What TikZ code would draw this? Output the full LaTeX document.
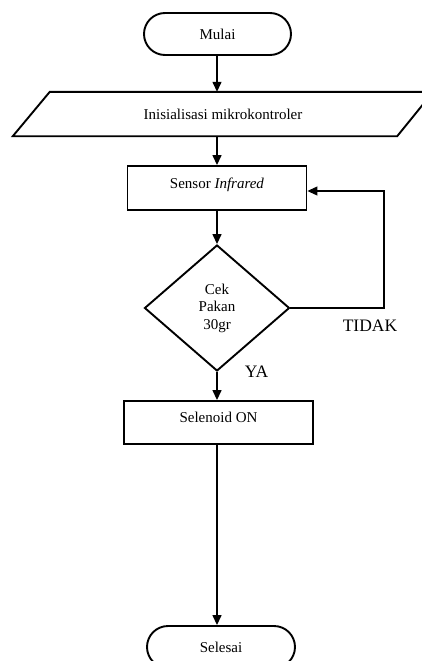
\documentclass[tikz,border=0pt]{standalone}
\usepackage{fontspec}
\setmainfont{Liberation Serif}
\usetikzlibrary{shapes.geometric,arrows.meta,calc}
\begin{document}
\begin{tikzpicture}[x=1pt,y=-1pt,
  shp/.style={draw, line width=1.9pt, inner sep=0pt, font=\fontsize{15}{17.5}\selectfont},
  term/.style={shp, rectangle, rounded corners=21pt, minimum width=147pt, minimum height=42pt},
  procbox/.style={shp, rectangle, minimum height=44pt},
  dec/.style={shp, diamond, minimum width=145pt, minimum height=126pt, align=center},
  conn/.style={line width=1.4pt, -{Triangle[length=10pt,width=9pt]}},
  lbl/.style={font=\fontsize{17.5}{20}\selectfont, inner sep=0pt}
]
\useasboundingbox (0,0) rectangle (422,661);
\node[term] (mulai) at (217.5,34) {Mulai};
\node[inner sep=0pt, minimum width=380pt, minimum height=44pt, font=\fontsize{15}{17.5}\selectfont] (init) at (223,114) {Inisialisasi mikrokontroler};
\draw[line width=1.9pt] ($(init.south west)+(-20,0)$) -- ($(init.north west)+(17,0)$) -- ($(init.north east)+(20,0)$) -- ($(init.south east)+(-16,0)$) -- cycle;
\node[procbox, minimum width=179pt] (sensor) at (217,188) {\raisebox{10pt}{Sensor \textit{Infrared}}};
\node[dec] (cek) at (217,308) {Cek\\Pakan\\30gr};
\node[procbox, minimum width=189pt, minimum height=43pt] (sel) at (218.5,422.5) {\raisebox{10pt}{Selenoid ON}};
\node[term, minimum width=148pt] (selesai) at (221,647) {Selesai};
\node[lbl] (tidak) at (370,326) {TIDAK};
\node[lbl] (ya) at (256.5,372) {YA};
\coordinate (fb) at (384,191);
\draw[conn] (mulai.south -| cek.north) -- (cek.north |- init.north);
\draw[conn] (cek.north |- init.south) -- (sensor.north);
\draw[conn] (sensor.south) -- (cek.north);
\draw[conn] (cek.south) -- (cek.south |- sel.north);
\draw[conn] (cek.south |- sel.south) -- (cek.south |- selesai.north);
\draw[conn, line width=1.1pt] (cek.east) -| (fb) -- (fb -| sensor.east);
\end{tikzpicture}
\end{document}
